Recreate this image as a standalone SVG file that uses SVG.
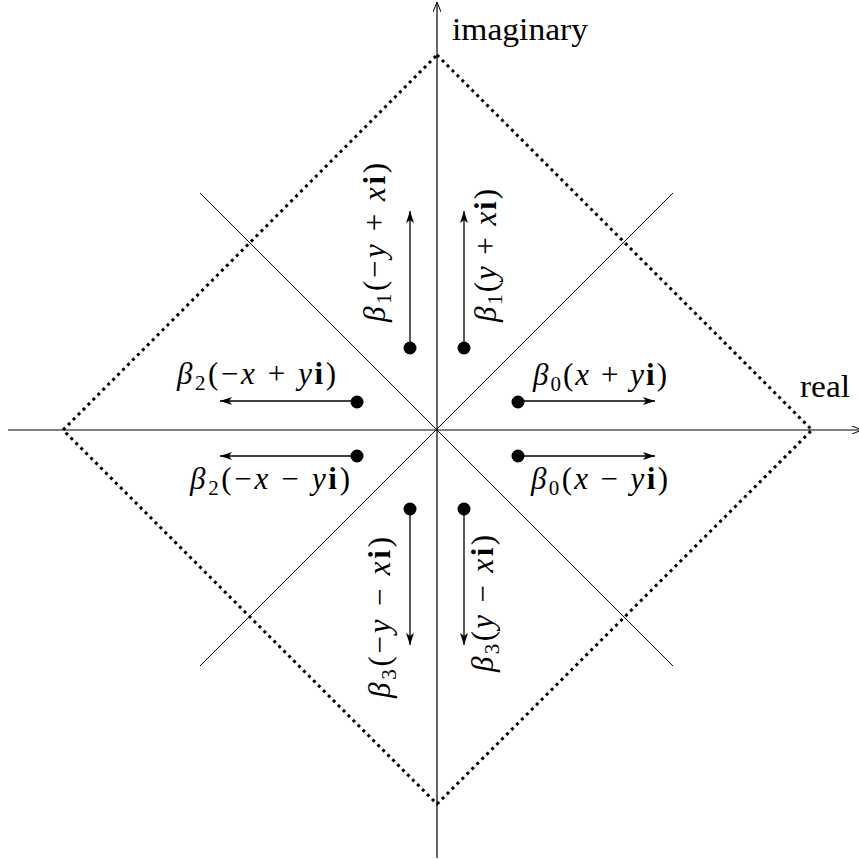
<svg xmlns="http://www.w3.org/2000/svg" width="859" height="860" viewBox="0 0 859 860">
<defs>
<marker id="ah" viewBox="0 0 12 8" refX="12" refY="4" markerWidth="12" markerHeight="8" markerUnits="userSpaceOnUse" orient="auto">
<path d="M0,0 L12,4 L0,8 L3,4 Z" fill="#000"/>
</marker>
<marker id="axh" viewBox="0 0 10 8" refX="10" refY="4" markerWidth="10" markerHeight="8" markerUnits="userSpaceOnUse" orient="auto">
<path d="M0,0 L10,4 L0,8" fill="none" stroke="#000" stroke-width="1"/>
</marker>
</defs>
<style>
.ax{stroke:#000;stroke-width:1.2;fill:none}
.dg{stroke:#000;stroke-width:1;fill:none}
.dm{stroke:#000;stroke-width:3;stroke-dasharray:3 4;fill:none}
.ar{stroke:#000;stroke-width:1.3;fill:none}
.dot{fill:#000}
.t{font-family:'Liberation Serif','DejaVu Serif','Times New Roman',Times,serif;font-size:31px;fill:#000}
.m{font-style:italic}
.b{font-weight:bold;font-style:normal}
.s{font-size:21px;font-style:normal}
</style>
<g id="connectors">
<line class="ax" x1="437" y1="858" x2="437" y2="2" marker-end="url(#axh)"/>
<line class="ax" x1="8" y1="430" x2="862" y2="430" marker-end="url(#axh)"/>
<line class="dg" x1="200" y1="193" x2="673" y2="666"/>
<line class="dg" x1="200" y1="666" x2="673" y2="193"/>
<path id="diamond" class="dm" d="M437,55 L812,430 L437,804 L63,430 Z"/>
<line class="ar" x1="410" y1="347" x2="410" y2="211" marker-end="url(#ah)"/>
<line class="ar" x1="464" y1="347" x2="464" y2="211" marker-end="url(#ah)"/>
<line class="ar" x1="518" y1="401" x2="655" y2="401" marker-end="url(#ah)"/>
<line class="ar" x1="357" y1="401" x2="220" y2="401" marker-end="url(#ah)"/>
<line class="ar" x1="518" y1="456" x2="655" y2="456" marker-end="url(#ah)"/>
<line class="ar" x1="357" y1="456" x2="220" y2="456" marker-end="url(#ah)"/>
<line class="ar" x1="410" y1="509" x2="410" y2="645" marker-end="url(#ah)"/>
<line class="ar" x1="464" y1="509" x2="464" y2="645" marker-end="url(#ah)"/>
</g>
<g id="dots">
<circle class="dot" cx="410" cy="348" r="6.5"/>
<circle class="dot" cx="464" cy="348" r="6.5"/>
<circle class="dot" cx="357" cy="402" r="6.5"/>
<circle class="dot" cx="518" cy="402" r="6.5"/>
<circle class="dot" cx="357" cy="456" r="6.5"/>
<circle class="dot" cx="518" cy="456" r="6.5"/>
<circle class="dot" cx="410" cy="509" r="6.5"/>
<circle class="dot" cx="464" cy="509" r="6.5"/>
</g>
<g id="axis-labels">
<text class="t" x="452" y="40" textLength="136" lengthAdjust="spacingAndGlyphs">imaginary</text>
<text class="t" x="800" y="397" textLength="50" lengthAdjust="spacingAndGlyphs">real</text>
</g>
<g id="labels">
<text class="t" x="533" y="385" textLength="134" lengthAdjust="spacing"><tspan class="m">β</tspan><tspan class="s" dy="6">0</tspan><tspan dy="-6">(</tspan><tspan class="m">x</tspan> + <tspan class="m">y</tspan><tspan class="b">i</tspan>)</text>
<text class="t" x="531" y="489" textLength="137" lengthAdjust="spacing"><tspan class="m">β</tspan><tspan class="s" dy="6">0</tspan><tspan dy="-6">(</tspan><tspan class="m">x</tspan> − <tspan class="m">y</tspan><tspan class="b">i</tspan>)</text>
<text class="t" x="177" y="384" textLength="159" lengthAdjust="spacing"><tspan class="m">β</tspan><tspan class="s" dy="6">2</tspan><tspan dy="-6">(−</tspan><tspan class="m">x</tspan> + <tspan class="m">y</tspan><tspan class="b">i</tspan>)</text>
<text class="t" x="190" y="489" textLength="160" lengthAdjust="spacing"><tspan class="m">β</tspan><tspan class="s" dy="6">2</tspan><tspan dy="-6">(−</tspan><tspan class="m">x</tspan> − <tspan class="m">y</tspan><tspan class="b">i</tspan>)</text>
<text class="t" transform="translate(385,322) rotate(-90)" textLength="159" lengthAdjust="spacing"><tspan class="m">β</tspan><tspan class="s" dy="6">1</tspan><tspan dy="-6">(−</tspan><tspan class="m">y</tspan> + <tspan class="m">x</tspan><tspan class="b">i</tspan>)</text>
<text class="t" transform="translate(496,322) rotate(-90)" textLength="133" lengthAdjust="spacing"><tspan class="m">β</tspan><tspan class="s" dy="6">1</tspan><tspan dy="-6">(</tspan><tspan class="m">y</tspan> + <tspan class="m">x</tspan><tspan class="b">i</tspan>)</text>
<text class="t" transform="translate(390,698) rotate(-90)" textLength="161" lengthAdjust="spacing"><tspan class="m">β</tspan><tspan class="s" dy="6">3</tspan><tspan dy="-6">(−</tspan><tspan class="m">y</tspan> − <tspan class="m">x</tspan><tspan class="b">i</tspan>)</text>
<text class="t" transform="translate(493,672) rotate(-90)" textLength="137" lengthAdjust="spacing"><tspan class="m">β</tspan><tspan class="s" dy="6">3</tspan><tspan dy="-6">(</tspan><tspan class="m">y</tspan> − <tspan class="m">x</tspan><tspan class="b">i</tspan>)</text>
</g>
</svg>
